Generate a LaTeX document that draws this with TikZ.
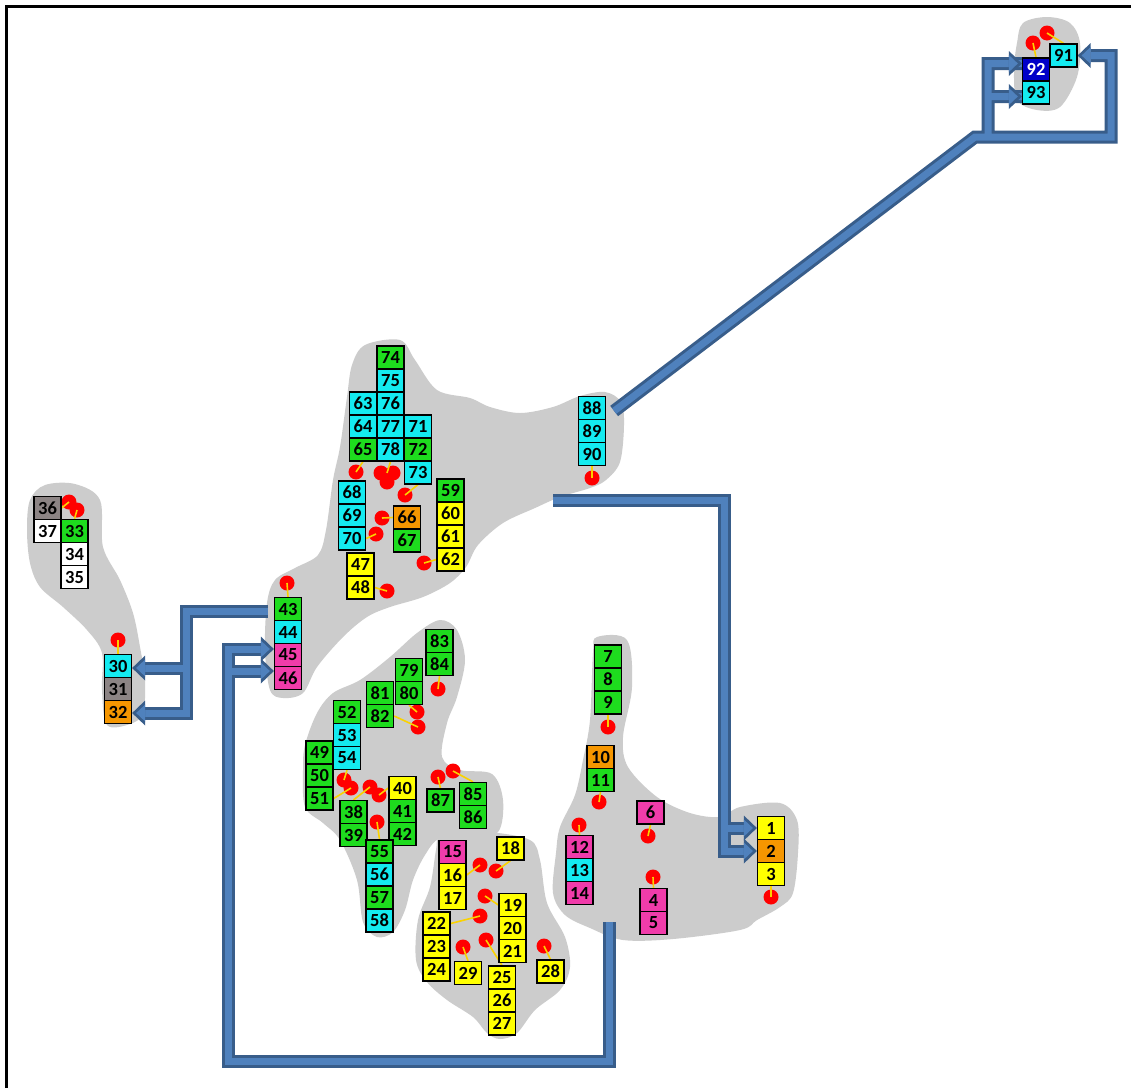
\documentclass[tikz,border=0pt]{standalone}
\usepackage{fontspec}
\setmainfont{Carlito}
\usetikzlibrary{calc}
\pgfdeclarelayer{bg}
\pgfsetlayers{bg,main}
\definecolor{cgreen}{RGB}{30,220,30}
\definecolor{ccyan}{RGB}{20,235,240}
\definecolor{cyel}{RGB}{255,255,0}
\definecolor{cmag}{RGB}{240,60,170}
\definecolor{corange}{RGB}{245,150,0}
\definecolor{cgray}{RGB}{140,132,132}
\definecolor{cnavy}{RGB}{0,0,200}
\definecolor{blobgray}{RGB}{204,204,204}
\definecolor{pipedark}{RGB}{56,93,138}
\definecolor{pipelight}{RGB}{79,129,189}
\definecolor{leadyel}{RGB}{250,210,0}
\newcommand\cell[4]{\node[cellbox, fill=#4] (n#1) at (#2,#3) {#1};}
\newcommand\rdot[3]{\node[reddot] (d#1) at (#2,#3) {};}
\newcommand\headL[1]{%
  \fill[pipedark] (#1) -- ++(13,-12.5) -- ++(0,25) -- cycle;
  \fill[pipelight] ($(#1)+(4,0)$) -- ++(9,-8.5) -- ++(0,17) -- cycle;}
\newcommand\headR[1]{%
  \fill[pipedark] (#1) -- ++(-13,-12.5) -- ++(0,25) -- cycle;
  \fill[pipelight] ($(#1)+(-4,0)$) -- ++(-9,-8.5) -- ++(0,17) -- cycle;}
\begin{document}
\begin{tikzpicture}[x=1pt,y=-1pt,
  cellbox/.style={draw=black, line width=1.3, minimum width=27, minimum height=23, inner sep=0,
    font=\bfseries\fontsize{18.5}{19}\selectfont, text=black},
  reddot/.style={circle, fill=red, minimum size=15, inner sep=0},
  lead/.style={draw=leadyel, line width=1.6},
  blob/.style={fill=blobgray},
  pipe/.style={draw=pipelight, line width=7, line join=miter,
    preaction={draw=pipedark, line width=13, line join=miter}}]
\useasboundingbox (0,0) rectangle (1131,1088);
% cells
\cell{74}{390.5}{357.5}{cgreen}
\cell{75}{390.5}{380.5}{ccyan}
\cell{76}{390.5}{403.5}{ccyan}
\cell{77}{390.5}{426.5}{ccyan}
\cell{78}{390.5}{449.5}{ccyan}
\cell{63}{363}{403.5}{ccyan}
\cell{64}{363}{426.5}{ccyan}
\cell{65}{363}{449.5}{cgreen}
\cell{71}{418}{426.5}{ccyan}
\cell{72}{418}{449.5}{cgreen}
\cell{73}{418}{472.5}{ccyan}
\cell{68}{352}{492.5}{ccyan}
\cell{69}{352}{515.5}{ccyan}
\cell{70}{352}{538.5}{ccyan}
\cell{66}{407}{517.5}{corange}
\cell{67}{407}{540.5}{cgreen}
\cell{59}{450.5}{490.5}{cgreen}
\cell{60}{450.5}{513.5}{cyel}
\cell{61}{450.5}{536.5}{cyel}
\cell{62}{450.5}{559.5}{cyel}
\cell{47}{360.5}{564.5}{cyel}
\cell{48}{360.5}{587.5}{cyel}
\cell{88}{592}{408}{ccyan}
\cell{89}{592}{431}{ccyan}
\cell{90}{592}{454}{ccyan}
\cell{36}{47.5}{508}{cgray}
\cell{37}{47.5}{531}{white}
\cell{33}{74.5}{531}{cgreen}
\cell{34}{74.5}{554}{white}
\cell{35}{74.5}{577}{white}
\cell{30}{118}{666}{ccyan}
\cell{31}{118}{689}{cgray}
\cell{32}{118}{712}{corange}
\cell{43}{288}{609}{cgreen}
\cell{44}{288}{632}{ccyan}
\cell{45}{288}{655}{cmag}
\cell{46}{288}{678}{cmag}
\cell{83}{439.5}{641}{cgreen}
\cell{84}{439.5}{664}{cgreen}
\cell{79}{409}{670}{cgreen}
\cell{80}{409}{693}{cgreen}
\cell{81}{380}{693}{cgreen}
\cell{82}{380}{716}{cgreen}
\cell{52}{347}{712}{cgreen}
\cell{53}{347}{735}{ccyan}
\cell{54}{347}{758}{ccyan}
\cell{49}{319.5}{752.5}{cgreen}
\cell{50}{319.5}{775.5}{cgreen}
\cell{51}{319.5}{798.5}{cgreen}
\cell{38}{353.5}{812}{cgreen}
\cell{39}{353.5}{835}{cgreen}
\cell{40}{402.5}{788}{cyel}
\cell{41}{402.5}{811}{cgreen}
\cell{42}{402.5}{834}{cgreen}
\cell{55}{379.5}{851.5}{cgreen}
\cell{56}{379.5}{874.5}{ccyan}
\cell{57}{379.5}{897.5}{cgreen}
\cell{58}{379.5}{920.5}{ccyan}
\cell{87}{440.5}{800.5}{cgreen}
\cell{85}{473}{794}{cgreen}
\cell{86}{473}{817}{cgreen}
\cell{15}{452.5}{852}{cmag}
\cell{16}{452.5}{875}{cyel}
\cell{17}{452.5}{898}{cyel}
\cell{18}{510.5}{848.5}{cyel}
\cell{19}{512.5}{905}{cyel}
\cell{20}{512.5}{928}{cyel}
\cell{21}{512.5}{951}{cyel}
\cell{22}{436.5}{923.5}{cyel}
\cell{23}{436.5}{946.5}{cyel}
\cell{24}{436.5}{969.5}{cyel}
\cell{29}{468}{973}{cyel}
\cell{25}{502}{977.5}{cyel}
\cell{26}{502}{1000.5}{cyel}
\cell{27}{502}{1023.5}{cyel}
\cell{28}{550.5}{971.5}{cyel}
\cell{12}{579.5}{847}{cmag}
\cell{13}{579.5}{870}{ccyan}
\cell{14}{579.5}{893}{cmag}
\cell{7}{608}{656.5}{cgreen}
\cell{8}{608}{679.5}{cgreen}
\cell{9}{608}{702.5}{cgreen}
\cell{10}{600.5}{757}{corange}
\cell{11}{600.5}{780}{cgreen}
\cell{6}{650.5}{812.5}{cmag}
\cell{4}{653.5}{900}{cmag}
\cell{5}{653.5}{923}{cmag}
\cell{1}{771}{828}{cyel}
\cell{2}{771}{851}{corange}
\cell{3}{771}{874}{cyel}
\node[cellbox, fill=cnavy, text=white] (n92) at (1036,69.5) {92};
\cell{93}{1036}{92.5}{ccyan}
\cell{91}{1063.5}{55.5}{ccyan}
\begin{pgfonlayer}{bg}
\fill[white] (0,0) rectangle (1131,1088);
% frame
\draw[line width=3.5] (6.5,1088) -- (6.5,6.5) -- (1131,6.5);
% grey regions
\fill[blob] plot[smooth cycle, tension=0.55] coordinates {
 (365,345) (400,340) (415,360) (437,390) (470,398) (490,407) (520,413) (553,407) (580,396)
 (605,392) (621,402) (624,425) (620,462) (606,480) (590,488) (560,497) (535,508) (503,523)
 (478,545) (466,567) (450,583) (423,597) (390,607) (367,617) (343,637) (317,667) (303,693)
 (283,698) (270,690) (265,650) (267,603) (275,580) (295,568) (318,555) (326,530) (333,480)
 (340,447) (347,397) (352,365)};
\fill[blob] plot[smooth cycle, tension=0.55] coordinates {
 (45,485) (75,484) (100,500) (103,547) (120,580) (133,613) (140,647) (145,680) (143,713)
 (130,724) (107,725) (102,690) (102,653) (87,630) (63,607) (40,587) (30,563) (27,530) (30,500)};
\fill[blob] plot[smooth cycle, tension=0.55] coordinates {
 (440,620) (457,630) (465,660) (457,697) (447,723) (442,757) (460,770) (492,774) (503,800)
 (498,832) (470,836) (440,838) (425,855) (413,880) (405,910) (393,932) (377,937) (363,922)
 (357,880) (340,840) (323,823) (305,807) (303,770) (305,745) (317,713) (333,693) (360,680)
 (390,657) (417,633)};
\fill[blob] plot[smooth cycle, tension=0.55] coordinates {
 (440,837) (467,833) (490,832) (530,840) (540,860) (547,903) (565,937) (570,967) (560,990)
 (535,1010) (517,1033) (500,1039) (487,1033) (473,1017) (447,1000) (427,982) (416,960)
 (418,920) (430,887) (436,850)};
\fill[blob] plot[smooth cycle, tension=0.55] coordinates {
 (597,637) (627,640) (632,687) (623,737) (628,767) (657,797) (690,813) (720,817) (740,807)
 (780,803) (797,820) (798,853) (793,893) (780,907) (757,920) (740,930) (673,939) (623,940)
 (590,928) (565,915) (553,893) (556,853) (560,827) (575,795) (583,760) (590,720) (593,653)};
\fill[blob] plot[smooth cycle, tension=0.55] coordinates {
 (1023,23) (1047,17) (1070,23) (1080,43) (1077,77) (1060,107) (1037,110) (1017,100) (1014,70) (1017,43)};
% pipe end points
\coordinate (s1) at ($(n88.east)+(8,3)$);
\coordinate (c1) at (975,137);
\coordinate (t92) at ($(n92.west)+(0,-6)$);
\coordinate (t93) at ($(n93.west)+(0,4)$);
\coordinate (s2) at (553,500);
\coordinate (s3) at (609,922);
\coordinate (t45) at ($(n45.west)+(0,-6)$);
\coordinate (t46) at ($(n46.west)+(0,-7)$);
\coordinate (s4) at (268,611);
\coordinate (t30) at ($(n30.east)+(0,2)$);
\coordinate (t32) at ($(n32.east)+(0,1)$);
% pipes
\draw[pipe] (s1) -- (c1) -- (1111,137) -- (1111,55.5) -- ($(n91.east)+(13,0)$)
  (988,137) -- (988,63.5) -- ($(t92)+(13,0)$)
  (988,96.5) -- ($(t93)+(13,0)$);
\draw[pipe] (s2) -- (724,500) -- (724,851) -- ($(n2.west)+(-13,0)$)
  (724,828) -- ($(n1.west)+(-13,0)$);
\draw[pipe] (s3) -- (609,1061) -- (228,1061) -- (228,649) -- ($(t45)+(-13,0)$)
  (228,671) -- ($(t46)+(-13,0)$);
\draw[pipe] (s4) -- (186,611) -- (186,713) -- ($(t32)+(13,0)$)
  (186,668) -- ($(t30)+(13,0)$);
\headL{n91.east}
\headR{t92}
\headR{t93}
\headR{n1.west}
\headR{n2.west}
\headR{t45}
\headR{t46}
\headL{t30}
\headL{t32}
% red pins
\rdot{65}{356}{472}
\rdot{78a}{381}{473}
\rdot{78b}{393}{473}
\rdot{78c}{387}{482}
\rdot{73}{405}{495}
\rdot{66}{382}{518}
\rdot{70}{376}{534}
\rdot{62}{424}{563}
\rdot{48}{387}{591}
\rdot{90}{592}{478}
\rdot{36}{69}{502}
\rdot{33}{77}{510}
\rdot{30}{118}{640}
\rdot{43}{287}{583}
\rdot{84}{438}{689}
\rdot{80}{417}{712}
\rdot{82}{418}{727}
\rdot{54}{344}{780}
\rdot{51}{351}{788}
\rdot{38}{370}{787}
\rdot{40}{379}{795}
\rdot{55}{377}{822}
\rdot{87}{438}{777}
\rdot{85}{453}{771}
\rdot{16}{480}{865}
\rdot{18}{496}{871}
\rdot{19}{485}{896}
\rdot{22}{480}{916}
\rdot{29}{463}{947}
\rdot{25}{486}{940}
\rdot{28}{544}{946}
\rdot{12}{579}{825}
\rdot{9}{608}{727}
\rdot{11}{599}{802}
\rdot{6}{648}{836}
\rdot{4}{653}{877}
\rdot{3}{771}{897}
\rdot{92}{1033}{43}
\rdot{91}{1047}{33}
% leads
\draw[lead] (d65.center) -- (n65.south);
\draw[lead] ($(d78a.center)!0.5!(d78b.center)$) -- (n78.south);
\draw[lead] (d73.center) -- (n73.south);
\draw[lead] (d66.center) -- (n66.west);
\draw[lead] (d70.center) -- (n70.east);
\draw[lead] (d62.center) -- (n62.west);
\draw[lead] (d48.center) -- (n48.east);
\draw[lead] (d90.center) -- (n90.south);
\draw[lead] (d36.center) -- (n36.east);
\draw[lead] (d33.center) -- (n33.north);
\draw[lead] (d30.center) -- (n30.north);
\draw[lead] (d43.center) -- (n43.north);
\draw[lead] (d84.center) -- (n84.south);
\draw[lead] (d80.center) -- (n80.south);
\draw[lead] (d82.center) -- (n82.east);
\draw[lead] (d54.center) -- (n54.south);
\draw[lead] (d51.center) -- (n51.east);
\draw[lead] (d38.center) -- (n38.north);
\draw[lead] (d40.center) -- (n40.west);
\draw[lead] (d55.center) -- (n55.north);
\draw[lead] (d87.center) -- (n87.north);
\draw[lead] (d85.center) -- (n85.north);
\draw[lead] (d16.center) -- (n16.east);
\draw[lead] (d18.center) -- (n18.south);
\draw[lead] (d19.center) -- (n19.west);
\draw[lead] (d22.center) -- (n22.east);
\draw[lead] (d29.center) -- (n29.north);
\draw[lead] (d25.center) -- (n25.north);
\draw[lead] (d28.center) -- (n28.north);
\draw[lead] (d12.center) -- (n12.north);
\draw[lead] (d9.center) -- (n9.south);
\draw[lead] (d11.center) -- (n11.south);
\draw[lead] (d6.center) -- (n6.south);
\draw[lead] (d4.center) -- (n4.north);
\draw[lead] (d3.center) -- (n3.south);
\draw[lead] (d92.center) -- (n92.north);
\draw[lead] (d91.center) -- (n91.north);
\end{pgfonlayer}
\end{tikzpicture}
\end{document}
